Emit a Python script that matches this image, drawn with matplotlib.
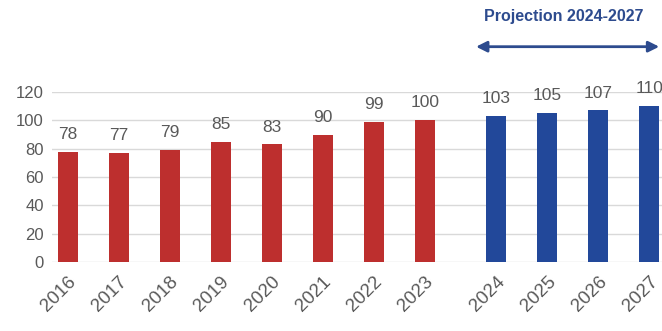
import matplotlib
matplotlib.use("Agg")
import matplotlib.pyplot as plt

# data
years = ["2016", "2017", "2018", "2019", "2020", "2021", "2022", "2023",
         "2024", "2025", "2026", "2027"]
values = [78, 77, 79, 85, 83, 90, 99, 100, 103, 105, 107, 110]
projected = [False] * 8 + [True] * 4
yticks = [0, 20, 40, 60, 80, 100, 120]

red = "#BD2F2E"
blue = "#22489A"
grey = "#595959"

plt.rcParams["font.family"] = ["Liberation Sans", "DejaVu Sans"]

# projection bars sit a bit further right than the history
pos = [i + (0.4 if p else 0) for i, p in enumerate(projected)]
cols = [blue if p else red for p in projected]

fig = plt.figure(figsize=(6.62, 3.31), dpi=100)
ax = fig.add_axes([0.0785, 0.2085, 0.9215, 0.5135])

ax.bar(pos, values, width=0.39, color=cols, zorder=3)
for x, v in zip(pos, values):
    ax.text(x, v + 7, str(v), ha="center", va="bottom", fontsize=12.5,
            color=grey, clip_on=False)

ax.set_ylim(0, 120)
ax.set_xlim(-0.31, 11.65)
ax.set_yticks(yticks)
ax.set_yticklabels([str(t) for t in yticks], fontsize=12, color=grey)
ax.set_xticks(pos)
ax.set_xticklabels(years, rotation=45, ha="right", rotation_mode="anchor",
                   fontsize=13.5, color=grey)
ax.tick_params(length=0, pad=6)
ax.tick_params(axis="x", pad=8)
ax.grid(axis="y", color="#D9D9D9", linewidth=1, zorder=0)
for s in ax.spines.values():
    s.set_visible(False)

# projection marker
ax.annotate("", xy=(11.65, 152), xytext=(7.95, 152),
            arrowprops=dict(arrowstyle="<|-|>", color="#2D4B8E", lw=2,
                            mutation_scale=16),
            annotation_clip=False)
ax.text(9.72, 173, "Projection 2024-2027", ha="center", va="center",
        fontsize=11.5, fontweight="bold", color="#2D4B8E", clip_on=False)

fig.savefig("out.png", dpi=100)
